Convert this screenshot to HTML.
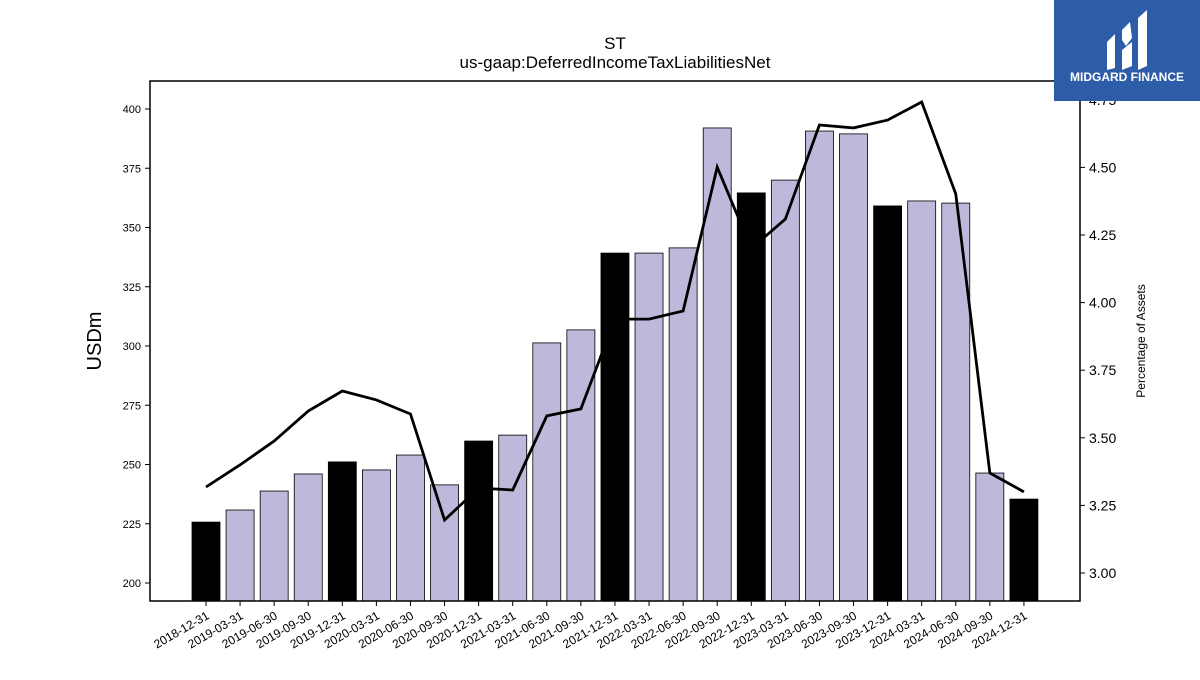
<!DOCTYPE html>
<html><head><meta charset="utf-8"><style>
body{margin:0;background:#fff;font-family:"Liberation Sans",sans-serif;}
svg text{font-family:"Liberation Sans",sans-serif;}
</style></head><body>
<svg id="chart" width="1200" height="675" xmlns="http://www.w3.org/2000/svg">
<text x="615" y="49" font-size="17" text-anchor="middle">ST</text>
<text x="615" y="68" font-size="17" text-anchor="middle">us-gaap:DeferredIncomeTaxLiabilitiesNet</text>
<g id="bars"></g>
<g id="line"></g>
<rect x="150" y="81" width="930" height="520" fill="none" stroke="#000" stroke-width="1.5"/>
<g id="yl"></g>
<g id="yr"></g>
<g id="xl"></g>
<text transform="translate(101,341) rotate(-90)" font-size="20" text-anchor="middle">USDm</text>
<text transform="translate(1145,341) rotate(-90)" font-size="12" text-anchor="middle">Percentage of Assets</text>
<g>
<rect x="1054" y="0" width="146" height="101" fill="#2d5ca8"/>
<path d="M1107 42 L1115 34 L1115 68 L1107 70 Z M1122 30 L1130 22 L1132 38 L1126 46 L1122 40 Z M1122 50 L1132 42 L1132 66 L1122 70 Z M1138 18 L1147 10 L1147 66 L1138 70 Z" fill="#fff"/>
<text x="1127" y="81" font-size="12" font-weight="bold" fill="#fff" text-anchor="middle">MIDGARD FINANCE</text>
</g>
</svg>
<script>
const categories=["2018-12-31","2019-03-31","2019-06-30","2019-09-30","2019-12-31","2020-03-31","2020-06-30","2020-09-30","2020-12-31","2021-03-31","2021-06-30","2021-09-30","2021-12-31","2022-03-31","2022-06-30","2022-09-30","2022-12-31","2023-03-31","2023-06-30","2023-09-30","2023-12-31","2024-03-31","2024-06-30","2024-09-30","2024-12-31"];
const barValues=[225.7,230.8,238.8,246.0,251.1,247.7,254.0,241.4,259.9,262.4,301.3,306.8,339.2,339.2,341.4,392.0,364.6,370.0,390.7,389.5,359.1,361.2,360.3,246.4,235.4];
const pctValues=[3.318,3.40,3.488,3.599,3.673,3.640,3.588,3.196,3.314,3.307,3.581,3.607,3.939,3.939,3.969,4.501,4.20,4.309,4.657,4.646,4.675,4.742,4.402,3.370,3.300];
const leftTicks=[200,225,250,275,300,325,350,375,400];
const rightTicks=[3.00,3.25,3.50,3.75,4.00,4.25,4.50,4.75];
const NS="http://www.w3.org/2000/svg";
const yL=v=>583-(v-200)*2.37;
const yR=v=>573-(v-3)*270.4;
const xC=i=>206+i*34.08;
function mk(tag,attrs,parent){const e=document.createElementNS(NS,tag);for(const k in attrs)e.setAttribute(k,attrs[k]);parent.appendChild(e);return e;}
const gb=document.getElementById('bars');
barValues.forEach((v,i)=>{
 const r=mk('rect',{x:xC(i)-14,y:yL(v),width:28,height:601-yL(v),fill:(i%4===0)?'#000':'#bdb9da',stroke:'#000','stroke-width':0.8},gb);
 
 
});
const gl=document.getElementById('line');
const p=mk('polyline',{points:pctValues.map((v,i)=>xC(i)+','+yR(v)).join(' '),fill:'none',stroke:'#000','stroke-width':2.8},gl);


const gyl=document.getElementById('yl');
leftTicks.forEach(t=>{
 const y=yL(t);
 mk('line',{x1:145,x2:150,y1:y,y2:y,stroke:'#000'},gyl);
 const tx=mk('text',{x:141,y:y+4,'font-size':11,'text-anchor':'end'},gyl);tx.textContent=t;
 
 
});
const gyr=document.getElementById('yr');
rightTicks.forEach(t=>{
 const y=yR(t);
 mk('line',{x1:1080,x2:1085,y1:y,y2:y,stroke:'#000'},gyr);
 const tx=mk('text',{x:1089,y:y+5,'font-size':14},gyr);tx.textContent=t.toFixed(2);
 
 
});
const gx=document.getElementById('xl');
categories.forEach((c,i)=>{
 const x=xC(i);
 mk('line',{x1:x,x2:x,y1:601,y2:606,stroke:'#000'},gx);
 const tx=mk('text',{transform:`translate(${x+4},${618}) rotate(-30)`,'font-size':12,'text-anchor':'end'},gx);tx.textContent=c;
 
 
});
</script>
</body></html>
